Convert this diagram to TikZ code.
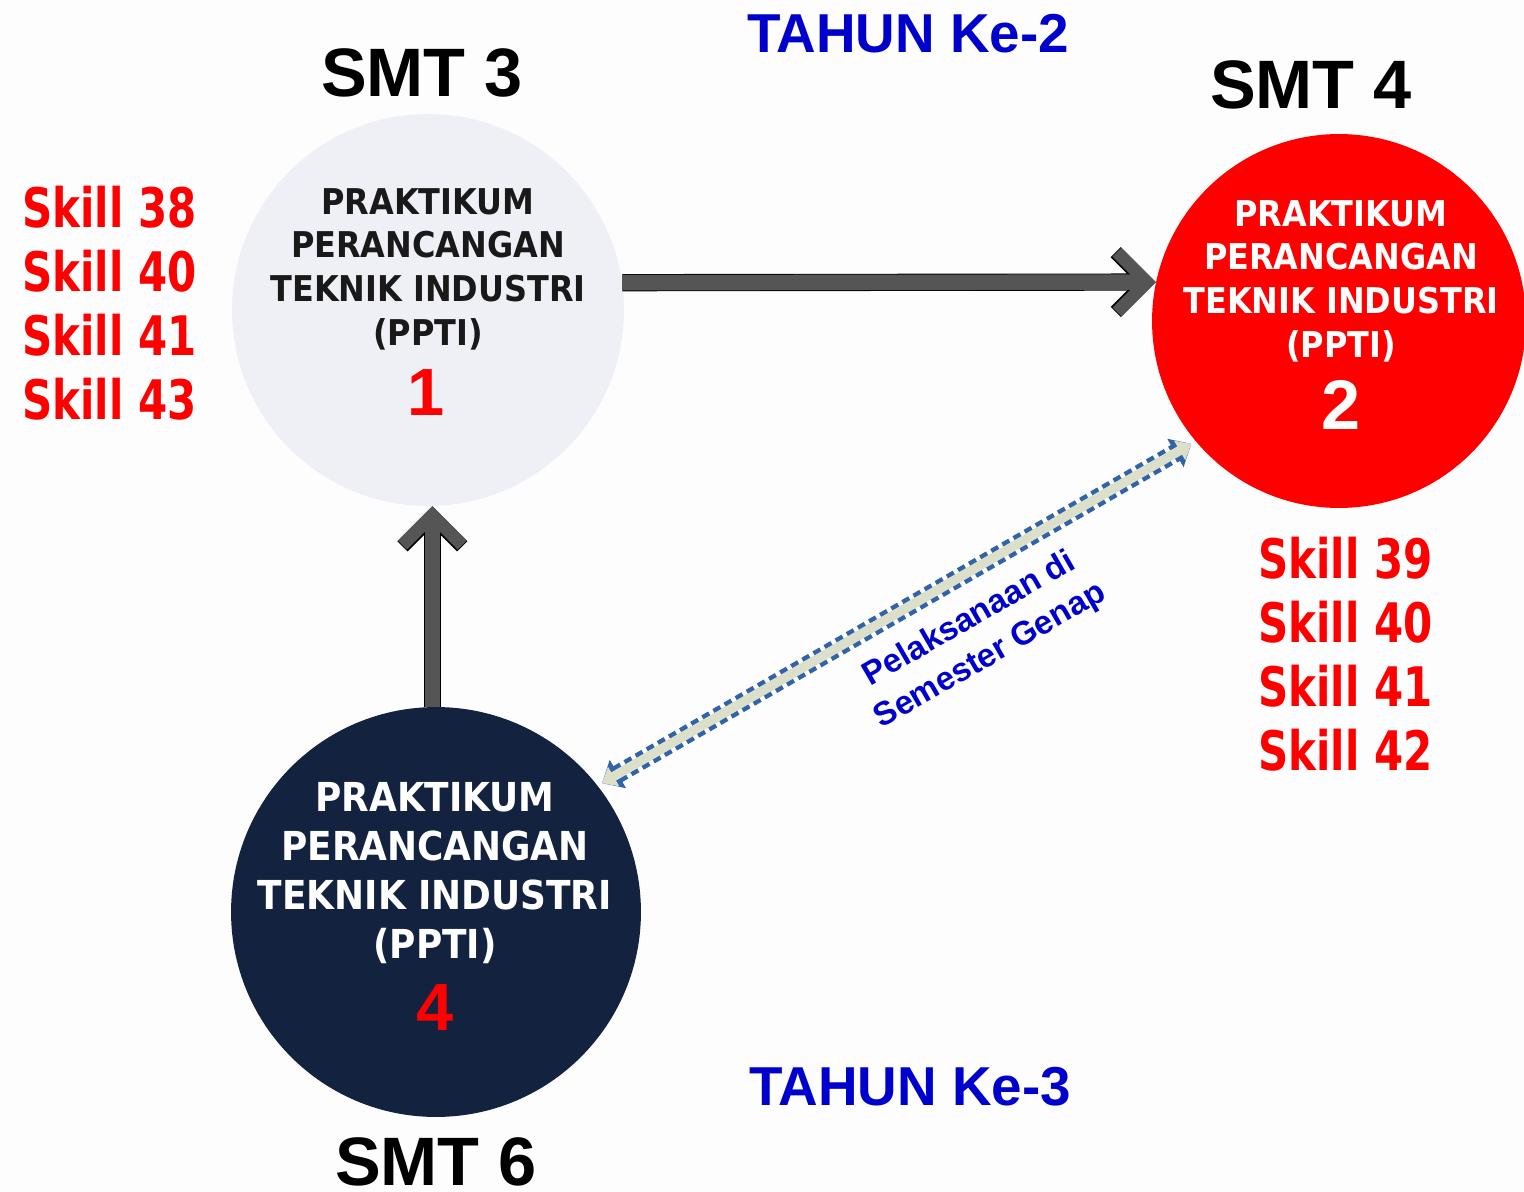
\documentclass[tikz,border=0pt]{standalone}
\usepackage{fontspec}
\setmainfont{Liberation Sans}
\newfontfamily\circfont{DejaVu Sans Condensed}
\newfontfamily\skillfont[FakeStretch=0.77]{DejaVu Sans}
\usepackage{xcolor}
\usetikzlibrary{arrows.meta}

\definecolor{pagebg}{HTML}{FDFDFE}
\definecolor{lightcirc}{HTML}{EEF0F6}
\definecolor{navycirc}{HTML}{13233F}
\definecolor{yearblue}{HTML}{0000CC}
\definecolor{arrowgrey}{HTML}{555555}
\definecolor{linkblue}{HTML}{3163A8}
\definecolor{linkfill}{HTML}{DCDFCA}

\begin{document}
\begin{tikzpicture}[x=0.02cm, y=-0.02cm,
  ppti/.style={circle, inner sep=0pt, minimum size=#1},
  pptitext/.style={align=center, inner sep=0pt, anchor=north,
    font=\circfont\bfseries\fontsize{20.2}{24.9}\selectfont},
  pptinum/.style={inner sep=0pt, font=\bfseries\fontsize{38}{38}\selectfont},
  semester/.style={inner sep=0pt, font=\bfseries\fontsize{39}{40}\selectfont},
  tahun/.style={inner sep=0pt, text=yearblue, font=\bfseries\fontsize{31.2}{32}\selectfont},
  skills/.style={inner sep=0pt, anchor=north west, align=left, text=red,
    font=\skillfont\bfseries\fontsize{31}{36.4}\selectfont},
  bigarrow/.style={draw=arrowgrey, line width=8.8pt,
    -{Straight Barb[sharp, length=17pt, width=34pt, line width=7.2pt]},
    preaction={draw=black, line width=9.8pt,
      -{Straight Barb[sharp, length=17pt, width=34pt, line width=8.2pt]}}},
  sidelink/.style={draw=linkfill, line width=5.4pt,
    shorten <=2.8pt, shorten >=2.8pt,
    {Triangle[length=7.6pt, width=12.4pt]}-{Triangle[length=7.6pt, width=12.4pt]},
    preaction={draw=linkblue, line width=10.4pt, dash pattern=on 4.5pt off 2.8pt,
      {Triangle[length=10.4pt, width=18pt]}-{Triangle[length=10.4pt, width=18pt]}}}]

\useasboundingbox (0,0) rectangle (1524,1192);
\fill[pagebg] (0,0) rectangle (1524,1192);

% circles
\node[ppti=7.84cm, fill=lightcirc] (ppti1) at (428,310) {};
\node[ppti=7.48cm, fill=red] (ppti2) at (1339,321) {};
\node[ppti=8.2cm, fill=navycirc] (ppti4) at (436,912) {};

% arrows
\draw[bigarrow] (ppti1.8) -- (ppti2.168);
\draw[bigarrow] (ppti4.91) -- (ppti4.91 |- ppti1.south);
\draw[sidelink] (ppti4.38) -- (ppti2.220);

% circle texts
\node[pptitext, text=black!90] (ppti1txt) at (428,188)
  {PRAKTIKUM\\PERANCANGAN\\TEKNIK INDUSTRI\\(PPTI)};
\node[pptinum, text=red] (ppti1num) at (426,393) {1};

\node[pptitext, text=white] (ppti2txt) at (1341,200)
  {PRAKTIKUM\\PERANCANGAN\\TEKNIK INDUSTRI\\(PPTI)};
\node[pptinum, text=white, font=\bfseries\fontsize{40}{40}\selectfont] (ppti2num) at (1341,405) {2};

\node[pptitext, text=white, font=\circfont\bfseries\fontsize{22.7}{27.9}\selectfont] (ppti4txt) at (435,782)
  {PRAKTIKUM\\PERANCANGAN\\TEKNIK INDUSTRI\\(PPTI)};
\node[pptinum, text=red] (ppti4num) at (435,1008) {4};

% labellings
\node[semester] (smt3) at (422,73) {SMT 3};
\node[semester] (smt4) at (1311,85) {SMT 4};
\node[semester] (smt6) at (436,1162) {SMT 6};

\node[tahun] (tahun2) at (908,34) {TAHUN Ke-2};
\node[tahun] (tahun3) at (910,1087) {TAHUN Ke-3};

\node[skills] (skill3) at (22,186) {Skill 38\\Skill 40\\Skill 41\\Skill 43};
\node[skills] (skill4) at (1258,537) {Skill 39\\Skill 40\\Skill 41\\Skill 42};

\node[rotate=30, align=center, inner sep=0pt, text=yearblue,
  font=\bfseries\fontsize{18.8}{24}\selectfont] (genap) at (980,638)
  {Pelaksanaan di\\Semester Genap};

\end{tikzpicture}
\end{document}
